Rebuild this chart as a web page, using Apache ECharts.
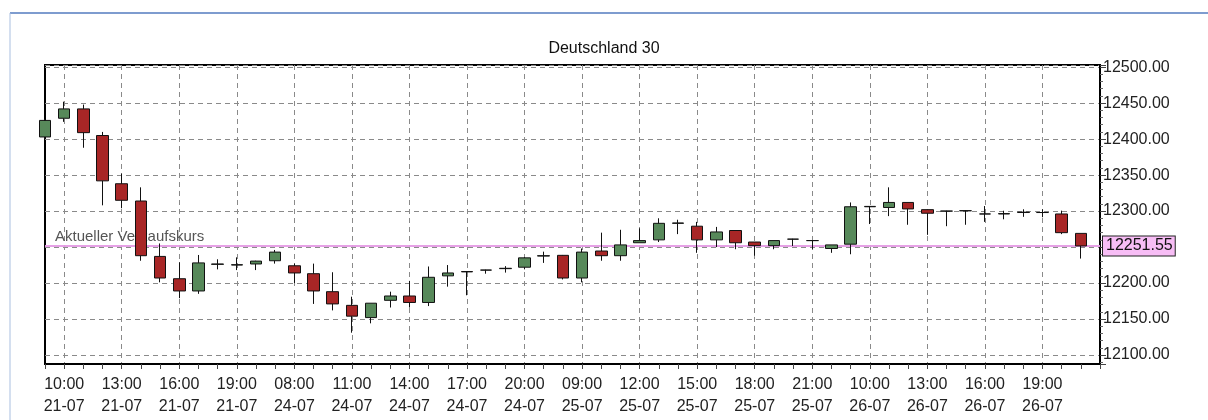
<!DOCTYPE html>
<html lang="de">
<head>
    <meta charset="UTF-8">
    <title>Deutschland 30</title>
    <script src="https://cdn.jsdelivr.net/npm/echarts@6/dist/echarts.min.js"></script>
    <style>
        html, body { margin: 0; padding: 0; background: #fff; }
        #chart { width: 1208px; height: 420px; }
    </style>
</head>
<body>
    <div id="chart"></div>

    <script>
        var zeiten = [
            '09:00','10:00','11:00','12:00','13:00','14:00','15:00','16:00','17:00','18:00','19:00','20:00','21:00',
            '08:00','09:00','10:00','11:00','12:00','13:00','14:00','15:00','16:00','17:00','18:00','19:00','20:00','21:00',
            '08:00','09:00','10:00','11:00','12:00','13:00','14:00','15:00','16:00','17:00','18:00','19:00','20:00','21:00',
            '08:00','09:00','10:00','11:00','12:00','13:00','14:00','15:00','16:00','17:00','18:00','19:00','20:00','21:00', ''
        ];
        var tage = [
            '21-07','21-07','21-07','21-07','21-07','21-07','21-07','21-07','21-07','21-07','21-07','21-07','21-07',
            '24-07','24-07','24-07','24-07','24-07','24-07','24-07','24-07','24-07','24-07','24-07','24-07','24-07','24-07',
            '25-07','25-07','25-07','25-07','25-07','25-07','25-07','25-07','25-07','25-07','25-07','25-07','25-07','25-07',
            '26-07','26-07','26-07','26-07','26-07','26-07','26-07','26-07','26-07','26-07','26-07','26-07','26-07','26-07', ''
        ];

        var eroeffnung = [12403, 12429, 12442, 12405, 12338, 12314, 12237, 12206, 12189, 12226, 12225, 12226.5, 12231,
            12224, 12213, 12188, 12169, 12152, 12176, 12182, 12173, 12210, 12216, 12218, 12220, 12222, 12237.5,
            12238.5, 12207, 12244.5, 12238, 12256, 12260, 12283, 12279, 12260, 12273, 12257, 12252, 12261, 12259,
            12248, 12254, 12306, 12305, 12312, 12302, 12300, 12300.5, 12296, 12296, 12298, 12298, 12296, 12269];
        var schluss = [12426, 12442, 12409, 12342, 12315, 12238, 12207, 12189, 12228, 12226.5, 12225.5, 12230.5, 12243,
            12214, 12189, 12171, 12154, 12172, 12182, 12173, 12208, 12214, 12215.5, 12218, 12220.5, 12235, 12238,
            12207, 12243, 12238, 12253, 12259, 12283, 12283.5, 12260, 12271, 12256, 12252, 12259, 12261, 12259,
            12253, 12306, 12306.5, 12312, 12303, 12297, 12300, 12300.5, 12296, 12296.5, 12298.5, 12298, 12270, 12251.55];
        var tief = [12400, 12424, 12388, 12308, 12304, 12231, 12201, 12179, 12185, 12219, 12218, 12218, 12227,
            12200, 12171, 12162, 12131, 12144, 12166, 12166, 12168, 12195, 12183, 12213, 12214.5, 12219, 12228,
            12205, 12201, 12231, 12231, 12256, 12257, 12268, 12242, 12250, 12247, 12238, 12247, 12251.5, 12247,
            12242, 12240, 12282, 12293, 12281, 12267, 12279, 12281, 12285, 12288.6, 12292, 12291.5, 12268, 12234];
        var hoch = [12428, 12452, 12448, 12410, 12352, 12333, 12255, 12229, 12239, 12233, 12235.7, 12231, 12246,
            12227, 12227, 12215, 12181, 12172, 12188, 12203, 12223, 12225, 12216.5, 12218.5, 12223.5, 12236, 12243.6,
            12239, 12248, 12270, 12274, 12276, 12290, 12288, 12285, 12278, 12273, 12257, 12259, 12261.5, 12259.5,
            12253, 12312, 12307, 12333, 12312, 12302, 12300.5, 12301, 12307, 12300.5, 12302.5, 12302.5, 12300.6, 12269];

        var aktuellerKurs = 12251.55;

        var kategorien = zeiten.map(function (z, i) { return z ? z + '\n' + tage[i] : ''; });
        var kerzen = eroeffnung.map(function (o, i) { return [o, schluss[i], tief[i], hoch[i]]; });

        var chart = echarts.init(document.getElementById('chart'));

        var schrift = '"Liberation Sans", Arial, sans-serif';

        var option = {
            backgroundColor: '#ffffff',
            animation: false,
            title: {
                text: 'Deutschland 30',
                left: 'center',
                top: 36,
                textStyle: { fontFamily: schrift, fontSize: 16, fontWeight: 'normal', color: '#111' }
            },
            graphic: [
                { type: 'line', shape: { x1: 10, y1: 13, x2: 1208, y2: 13 }, style: { stroke: '#7e9ccf', lineWidth: 2 } },
                { type: 'line', shape: { x1: 10, y1: 13, x2: 10, y2: 420 }, style: { stroke: '#a9bfe0', lineWidth: 1 } }
            ],
            grid: {
                left: 45,
                right: 108,
                top: 65,
                bottom: 56,
                show: true,
                backgroundColor: '#ffffff',
                borderColor: '#000',
                borderWidth: 2
            },
            xAxis: {
                type: 'category',
                data: kategorien,
                boundaryGap: false,
                axisLine: { show: true, lineStyle: { color: '#000', width: 2 } },
                axisTick: { show: true, interval: 0, length: 5, lineStyle: { color: '#444' } },
                axisLabel: {
                    interval: function (i) { return i % 3 === 1; },
                    fontFamily: schrift,
                    fontSize: 16,
                    lineHeight: 22,
                    color: '#222',
                    margin: 10
                },
                splitLine: {
                    show: true,
                    interval: function (i) { return i % 3 === 1; },
                    lineStyle: { color: '#8a8a8a', type: [5, 4] }
                }
            },
            yAxis: {
                type: 'value',
                position: 'right',
                min: 12087.5,
                max: 12503,
                splitNumber: 8,
                scale: true,
                axisLine: { show: true, lineStyle: { color: '#000', width: 2 } },
                axisTick: { show: true, length: 6, lineStyle: { color: '#444' } },
                minorTick: { show: true, splitNumber: 5, length: 3, lineStyle: { color: '#666' } },
                axisLabel: {
                    showMinLabel: false,
                    showMaxLabel: false,
                    fontFamily: schrift,
                    fontSize: 16,
                    color: '#222',
                    margin: 3,
                    formatter: function (v) { return v.toFixed(2); }
                },
                splitLine: { show: true, lineStyle: { color: '#8a8a8a', type: [5, 4] } }
            },
            series: [
                {
                    name: 'Deutschland 30',
                    type: 'candlestick',
                    data: kerzen,
                    barWidth: 12,
                    itemStyle: {
                        color: '#57895a',
                        color0: '#a82626',
                        borderColor: '#111',
                        borderColor0: '#111',
                        borderWidth: 1
                    },
                    markLine: {
                        silent: true,
                        symbol: 'none',
                        z: 1,
                        lineStyle: { color: '#e49be4', type: 'solid', width: 1.5 },
                        data: [
                            {
                                yAxis: aktuellerKurs,
                                label: {
                                    position: 'insideStartTop',
                                    formatter: 'Aktueller Verkaufskurs',
                                    fontFamily: schrift,
                                    fontSize: 15,
                                    color: '#555',
                                    distance: [10, 2]
                                }
                            },
                            {
                                yAxis: aktuellerKurs,
                                label: {
                                    position: 'end',
                                    formatter: function () { return aktuellerKurs.toFixed(2); },
                                    fontFamily: schrift,
                                    fontSize: 16,
                                    color: '#111',
                                    backgroundColor: '#f7bdf5',
                                    borderColor: '#222',
                                    borderWidth: 1,
                                    padding: [2, 2, 1, 3],
                                    distance: 3
                                }
                            }
                        ]
                    }
                }
            ]
        };

        chart.setOption(option);
    </script>
</body>
</html>
